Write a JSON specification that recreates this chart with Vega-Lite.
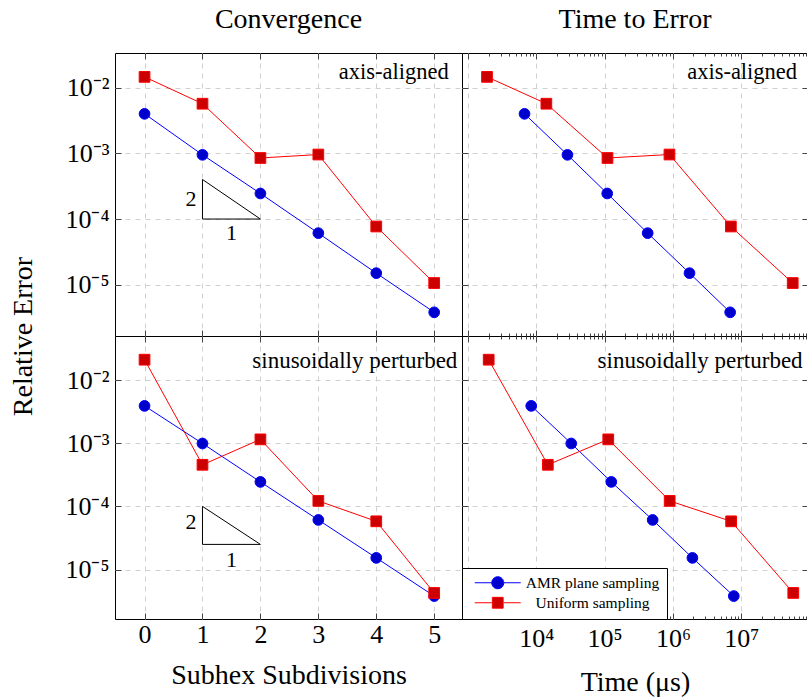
{
  "$schema": "https://vega.github.io/schema/vega-lite/v6.json",
  "background": "white",
  "padding": {"left": 8, "top": 5, "right": 0, "bottom": 0},
  "bounds": "flush",
  "spacing": 0,
  "columns": 2,
  "datasets": {
    "pts": [
      {"geom": "axis", "method": "AMR plane sampling", "sub": 0, "err": 0.004, "time": 6700},
      {"geom": "axis", "method": "AMR plane sampling", "sub": 1, "err": 0.00095, "time": 28500},
      {"geom": "axis", "method": "AMR plane sampling", "sub": 2, "err": 0.000245, "time": 109000},
      {"geom": "axis", "method": "AMR plane sampling", "sub": 3, "err": 0.000061, "time": 427000},
      {"geom": "axis", "method": "AMR plane sampling", "sub": 4, "err": 0.000015, "time": 1750000},
      {"geom": "axis", "method": "AMR plane sampling", "sub": 5, "err": 0.0000038, "time": 6900000},
      {"geom": "axis", "method": "Uniform sampling", "sub": 0, "err": 0.0146, "time": 1890},
      {"geom": "axis", "method": "Uniform sampling", "sub": 1, "err": 0.0057, "time": 14000},
      {"geom": "axis", "method": "Uniform sampling", "sub": 2, "err": 0.00085, "time": 110000},
      {"geom": "axis", "method": "Uniform sampling", "sub": 3, "err": 0.00096, "time": 890000},
      {"geom": "axis", "method": "Uniform sampling", "sub": 4, "err": 0.000077, "time": 7060000},
      {"geom": "axis", "method": "Uniform sampling", "sub": 5, "err": 0.0000106, "time": 56900000},
      {"geom": "sin", "method": "AMR plane sampling", "sub": 0, "err": 0.0039, "time": 8400},
      {"geom": "sin", "method": "AMR plane sampling", "sub": 1, "err": 0.00099, "time": 32400},
      {"geom": "sin", "method": "AMR plane sampling", "sub": 2, "err": 0.000244, "time": 125000},
      {"geom": "sin", "method": "AMR plane sampling", "sub": 3, "err": 0.000061, "time": 505000},
      {"geom": "sin", "method": "AMR plane sampling", "sub": 4, "err": 0.0000153, "time": 1930000},
      {"geom": "sin", "method": "AMR plane sampling", "sub": 5, "err": 0.0000038, "time": 7800000},
      {"geom": "sin", "method": "Uniform sampling", "sub": 0, "err": 0.021, "time": 2000},
      {"geom": "sin", "method": "Uniform sampling", "sub": 1, "err": 0.000455, "time": 14700},
      {"geom": "sin", "method": "Uniform sampling", "sub": 2, "err": 0.00115, "time": 113000},
      {"geom": "sin", "method": "Uniform sampling", "sub": 3, "err": 0.000122, "time": 897000},
      {"geom": "sin", "method": "Uniform sampling", "sub": 4, "err": 0.000058, "time": 7130000},
      {"geom": "sin", "method": "Uniform sampling", "sub": 5, "err": 0.00000426, "time": 58000000}
    ],
    "tri": [
      {"geom": "axis", "k": 0, "sub": 1, "err": 0.0004},
      {"geom": "axis", "k": 1, "sub": 1, "err": 0.0001},
      {"geom": "axis", "k": 2, "sub": 2, "err": 0.0001},
      {"geom": "axis", "k": 3, "sub": 1, "err": 0.0004},
      {"geom": "sin", "k": 0, "sub": 1, "err": 0.0001},
      {"geom": "sin", "k": 1, "sub": 1, "err": 0.000025},
      {"geom": "sin", "k": 2, "sub": 2, "err": 0.000025},
      {"geom": "sin", "k": 3, "sub": 1, "err": 0.0001}
    ]
  },
  "concat": [
    {
      "width": 347, "height": 283,
      "title": {"text": "Convergence"},
      "resolve": {"axis": {"x": "independent", "y": "independent"}},
      "layer": [
        {"data": {"name": "pts"}, "transform": [{"filter": "datum.geom === 'axis'"}], "mark": {"type": "line", "strokeWidth": 1},
         "encoding": {
           "x": {"field": "sub", "type": "quantitative", "scale": {"domain": [-0.51, 5.48], "nice": false, "zero": false},
                 "axis": {"values": [0, 1, 2, 3, 4, 5], "labels": false, "title": null}},
           "y": {"field": "err", "type": "quantitative", "scale": {"type": "log", "domain": [0.000001656, 0.03373], "nice": false},
                 "axis": {"values": [0.00001, 0.0001, 0.001, 0.01], "labelExpr": "datum.value < 5e-5 ? '10⁻⁵' : datum.value < 5e-4 ? '10⁻⁴' : datum.value < 5e-3 ? '10⁻³' : '10⁻²'", "labelPadding": 12,
                          "title": "Relative Error", "titleX": -92, "titleY": 283, "titleAngle": -90, "titleAlign": "center", "titleBaseline": "middle"}},
           "stroke": {"field": "method", "type": "nominal", "scale": {"domain": ["AMR plane sampling", "Uniform sampling"], "range": ["#0000ff", "#ff0000"]}, "legend": null}}},
        {"data": {"name": "pts"}, "transform": [{"filter": "datum.geom === 'axis'"}], "mark": {"type": "point", "filled": true, "size": 115, "opacity": 1, "strokeWidth": 1},
         "encoding": {
           "x": {"field": "sub", "type": "quantitative", "axis": {"orient": "top", "values": [0, 1, 2, 3, 4, 5], "labels": false, "grid": false, "title": null}},
           "y": {"field": "err", "type": "quantitative", "axis": null},
           "fill": {"field": "method", "type": "nominal", "scale": {"domain": ["AMR plane sampling", "Uniform sampling"], "range": ["#0000cc", "#cc0000"]}, "legend": null},
           "stroke": {"field": "method", "type": "nominal", "scale": {"domain": ["AMR plane sampling", "Uniform sampling"], "range": ["#0000ff", "#ff0000"]}, "legend": null},
           "shape": {"field": "method", "type": "nominal", "scale": {"domain": ["AMR plane sampling", "Uniform sampling"], "range": ["circle", "square"]}, "legend": null}}},
        {"data": {"name": "tri"}, "transform": [{"filter": "datum.geom === 'axis'"}], "mark": {"type": "line", "color": "black", "strokeWidth": 1},
         "encoding": {"x": {"field": "sub", "type": "quantitative", "axis": null}, "y": {"field": "err", "type": "quantitative", "axis": null}, "order": {"field": "k", "type": "quantitative"}}},
        {"data": {"values": [{}]}, "mark": {"type": "text", "text": "2", "font": "Liberation Serif", "fontSize": 22, "align": "center", "baseline": "middle"},
         "encoding": {"x": {"datum": 0.8, "type": "quantitative", "axis": null}, "y": {"datum": 0.0002, "type": "quantitative", "axis": null}}},
        {"data": {"values": [{}]}, "mark": {"type": "text", "text": "1", "font": "Liberation Serif", "fontSize": 22, "align": "center", "baseline": "middle"},
         "encoding": {"x": {"datum": 1.5, "type": "quantitative", "axis": null}, "y": {"datum": 0.000061, "type": "quantitative", "axis": null}}},
        {"data": {"values": [{}]}, "mark": {"type": "text", "text": "axis-aligned", "font": "Liberation Serif", "fontSize": 22.5, "align": "right", "baseline": "middle"},
         "encoding": {"x": {"datum": 5.25, "type": "quantitative", "axis": null}, "y": {"datum": 0.0173, "type": "quantitative", "axis": null}}}
      ]
    },
    {
      "width": 346, "height": 283,
      "title": {"text": "Time to Error"},
      "resolve": {"axis": {"x": "independent", "y": "independent"}},
      "layer": [
        {"data": {"name": "pts"}, "transform": [{"filter": "datum.geom === 'axis'"}], "mark": {"type": "line", "strokeWidth": 1},
         "encoding": {
           "x": {"field": "time", "type": "quantitative", "scale": {"type": "log", "domain": [813, 95300000], "nice": false},
                 "axis": {"values": [1000,2000,3000,4000,5000,6000,7000,8000,9000,10000,20000,30000,40000,50000,60000,70000,80000,90000,100000,200000,300000,400000,500000,600000,700000,800000,900000,1000000,2000000,3000000,4000000,5000000,6000000,7000000,8000000,9000000,10000000,20000000,30000000,40000000,50000000,60000000,70000000,80000000,90000000],
                          "labels": false, "title": null,
                          "tickSize": {"condition": {"test": "datum.value == 1000 || datum.value == 10000 || datum.value == 100000 || datum.value == 1000000 || datum.value == 10000000", "value": -6}, "value": -3},
                          "gridOpacity": {"condition": {"test": "datum.value == 1000 || datum.value == 10000 || datum.value == 100000 || datum.value == 1000000 || datum.value == 10000000", "value": 1}, "value": 0}}},
           "y": {"field": "err", "type": "quantitative", "scale": {"type": "log", "domain": [0.000001656, 0.03373], "nice": false},
                 "axis": {"values": [0.00001, 0.0001, 0.001, 0.01], "labels": false, "title": null}},
           "stroke": {"field": "method", "type": "nominal", "scale": {"domain": ["AMR plane sampling", "Uniform sampling"], "range": ["#0000ff", "#ff0000"]}, "legend": null}}},
        {"data": {"name": "pts"}, "transform": [{"filter": "datum.geom === 'axis'"}], "mark": {"type": "point", "filled": true, "size": 115, "opacity": 1, "strokeWidth": 1},
         "encoding": {
           "x": {"field": "time", "type": "quantitative",
                 "axis": {"orient": "top", "values": [1000,2000,3000,4000,5000,6000,7000,8000,9000,10000,20000,30000,40000,50000,60000,70000,80000,90000,100000,200000,300000,400000,500000,600000,700000,800000,900000,1000000,2000000,3000000,4000000,5000000,6000000,7000000,8000000,9000000,10000000,20000000,30000000,40000000,50000000,60000000,70000000,80000000,90000000],
                          "labels": false, "title": null, "grid": false,
                          "tickSize": {"condition": {"test": "datum.value == 1000 || datum.value == 10000 || datum.value == 100000 || datum.value == 1000000 || datum.value == 10000000", "value": -6}, "value": -3}}},
           "y": {"field": "err", "type": "quantitative", "axis": {"orient": "right", "values": [0.00001, 0.0001, 0.001, 0.01], "labels": false, "title": null, "grid": false}},
           "fill": {"field": "method", "type": "nominal", "scale": {"domain": ["AMR plane sampling", "Uniform sampling"], "range": ["#0000cc", "#cc0000"]}, "legend": null},
           "stroke": {"field": "method", "type": "nominal", "scale": {"domain": ["AMR plane sampling", "Uniform sampling"], "range": ["#0000ff", "#ff0000"]}, "legend": null},
           "shape": {"field": "method", "type": "nominal", "scale": {"domain": ["AMR plane sampling", "Uniform sampling"], "range": ["circle", "square"]}, "legend": null}}},
        {"data": {"values": [{}]}, "mark": {"type": "text", "text": "axis-aligned", "font": "Liberation Serif", "fontSize": 22.5, "align": "right", "baseline": "middle"},
         "encoding": {"x": {"datum": 66000000, "type": "quantitative", "axis": null}, "y": {"datum": 0.0173, "type": "quantitative", "axis": null}}}
      ]
    },
    {
      "width": 347, "height": 283,
      "resolve": {"axis": {"x": "independent", "y": "independent"}},
      "layer": [
        {"data": {"name": "pts"}, "transform": [{"filter": "datum.geom === 'sin'"}], "mark": {"type": "line", "strokeWidth": 1},
         "encoding": {
           "x": {"field": "sub", "type": "quantitative", "scale": {"domain": [-0.51, 5.48], "nice": false, "zero": false},
                 "axis": {"values": [0, 1, 2, 3, 4, 5], "labelPadding": 8, "title": "Subhex Subdivisions", "titlePadding": 14}},
           "y": {"field": "err", "type": "quantitative", "scale": {"type": "log", "domain": [0.000001648, 0.0498], "nice": false},
                 "axis": {"values": [0.00001, 0.0001, 0.001, 0.01], "labelExpr": "datum.value < 5e-5 ? '10⁻⁵' : datum.value < 5e-4 ? '10⁻⁴' : datum.value < 5e-3 ? '10⁻³' : '10⁻²'", "labelPadding": 12, "title": null}},
           "stroke": {"field": "method", "type": "nominal", "scale": {"domain": ["AMR plane sampling", "Uniform sampling"], "range": ["#0000ff", "#ff0000"]}, "legend": null}}},
        {"data": {"name": "pts"}, "transform": [{"filter": "datum.geom === 'sin'"}], "mark": {"type": "point", "filled": true, "size": 115, "opacity": 1, "strokeWidth": 1},
         "encoding": {
           "x": {"field": "sub", "type": "quantitative", "axis": {"orient": "top", "values": [0, 1, 2, 3, 4, 5], "labels": false, "grid": false, "title": null}},
           "y": {"field": "err", "type": "quantitative", "axis": null},
           "fill": {"field": "method", "type": "nominal", "scale": {"domain": ["AMR plane sampling", "Uniform sampling"], "range": ["#0000cc", "#cc0000"]}, "legend": null},
           "stroke": {"field": "method", "type": "nominal", "scale": {"domain": ["AMR plane sampling", "Uniform sampling"], "range": ["#0000ff", "#ff0000"]}, "legend": null},
           "shape": {"field": "method", "type": "nominal", "scale": {"domain": ["AMR plane sampling", "Uniform sampling"], "range": ["circle", "square"]}, "legend": null}}},
        {"data": {"name": "tri"}, "transform": [{"filter": "datum.geom === 'sin'"}], "mark": {"type": "line", "color": "black", "strokeWidth": 1},
         "encoding": {"x": {"field": "sub", "type": "quantitative", "axis": null}, "y": {"field": "err", "type": "quantitative", "axis": null}, "order": {"field": "k", "type": "quantitative"}}},
        {"data": {"values": [{}]}, "mark": {"type": "text", "text": "2", "font": "Liberation Serif", "fontSize": 22, "align": "center", "baseline": "middle"},
         "encoding": {"x": {"datum": 0.8, "type": "quantitative", "axis": null}, "y": {"datum": 0.000057, "type": "quantitative", "axis": null}}},
        {"data": {"values": [{}]}, "mark": {"type": "text", "text": "1", "font": "Liberation Serif", "fontSize": 22, "align": "center", "baseline": "middle"},
         "encoding": {"x": {"datum": 1.5, "type": "quantitative", "axis": null}, "y": {"datum": 0.0000144, "type": "quantitative", "axis": null}}},
        {"data": {"values": [{}]}, "mark": {"type": "text", "text": "sinusoidally perturbed", "font": "Liberation Serif", "fontSize": 23, "align": "right", "baseline": "middle"},
         "encoding": {"x": {"datum": 5.4, "type": "quantitative", "axis": null}, "y": {"datum": 0.0202, "type": "quantitative", "axis": null}}}
      ]
    },
    {
      "width": 346, "height": 283,
      "resolve": {"axis": {"x": "independent", "y": "independent"}, "scale": {"fill": "independent", "stroke": "independent", "shape": "independent"}},
      "layer": [
        {"data": {"name": "pts"}, "transform": [{"filter": "datum.geom === 'sin'"}], "mark": {"type": "line", "strokeWidth": 1},
         "encoding": {
           "x": {"field": "time", "type": "quantitative", "scale": {"type": "log", "domain": [813, 95300000], "nice": false},
                 "axis": {"values": [1000,2000,3000,4000,5000,6000,7000,8000,9000,10000,20000,30000,40000,50000,60000,70000,80000,90000,100000,200000,300000,400000,500000,600000,700000,800000,900000,1000000,2000000,3000000,4000000,5000000,6000000,7000000,8000000,9000000,10000000,20000000,30000000,40000000,50000000,60000000,70000000,80000000,90000000],
                          "labelExpr": "datum.value == 10000 ? '10⁴' : datum.value == 100000 ? '10⁵' : datum.value == 1000000 ? '10⁶' : datum.value == 10000000 ? '10⁷' : ''",
                          "labelPadding": 12, "title": "Time (μs)", "titlePadding": 14,
                          "tickSize": {"condition": {"test": "datum.value == 1000 || datum.value == 10000 || datum.value == 100000 || datum.value == 1000000 || datum.value == 10000000", "value": -6}, "value": -3},
                          "gridOpacity": {"condition": {"test": "datum.value == 1000 || datum.value == 10000 || datum.value == 100000 || datum.value == 1000000 || datum.value == 10000000", "value": 1}, "value": 0}}},
           "y": {"field": "err", "type": "quantitative", "scale": {"type": "log", "domain": [0.000001648, 0.0498], "nice": false},
                 "axis": {"values": [0.00001, 0.0001, 0.001, 0.01], "labels": false, "title": null}},
           "stroke": {"field": "method", "type": "nominal", "scale": {"domain": ["AMR plane sampling", "Uniform sampling"], "range": ["#0000ff", "#ff0000"]}, "legend": null}}},
        {"data": {"name": "pts"}, "transform": [{"filter": "datum.geom === 'sin'"}], "mark": {"type": "point", "filled": true, "size": 115, "opacity": 1, "strokeWidth": 1},
         "encoding": {
           "x": {"field": "time", "type": "quantitative",
                 "axis": {"orient": "top", "values": [1000,2000,3000,4000,5000,6000,7000,8000,9000,10000,20000,30000,40000,50000,60000,70000,80000,90000,100000,200000,300000,400000,500000,600000,700000,800000,900000,1000000,2000000,3000000,4000000,5000000,6000000,7000000,8000000,9000000,10000000,20000000,30000000,40000000,50000000,60000000,70000000,80000000,90000000],
                          "labels": false, "title": null, "grid": false,
                          "tickSize": {"condition": {"test": "datum.value == 1000 || datum.value == 10000 || datum.value == 100000 || datum.value == 1000000 || datum.value == 10000000", "value": -6}, "value": -3}}},
           "y": {"field": "err", "type": "quantitative", "axis": {"orient": "right", "values": [0.00001, 0.0001, 0.001, 0.01], "labels": false, "title": null, "grid": false}},
           "fill": {"field": "method", "type": "nominal", "scale": {"domain": ["AMR plane sampling", "Uniform sampling"], "range": ["#0000cc", "#cc0000"]}, "legend": null},
           "stroke": {"field": "method", "type": "nominal", "scale": {"domain": ["AMR plane sampling", "Uniform sampling"], "range": ["#0000ff", "#ff0000"]}, "legend": null},
           "shape": {"field": "method", "type": "nominal", "scale": {"domain": ["AMR plane sampling", "Uniform sampling"], "range": ["circle", "square"]}, "legend": null}}},
        {"data": {"name": "pts"}, "transform": [{"filter": "false"}], "mark": {"type": "point", "filled": true, "size": 144, "opacity": 1, "strokeWidth": 1},
         "encoding": {
           "x": {"field": "time", "type": "quantitative", "axis": null},
           "y": {"field": "err", "type": "quantitative", "axis": null},
           "fill": {"field": "method", "type": "nominal", "scale": {"domain": ["AMR plane sampling", "Uniform sampling"], "range": ["#0000cc", "#cc0000"]},
                    "legend": {"orient": "bottom-left", "offset": 0, "title": null}},
           "stroke": {"field": "method", "type": "nominal", "scale": {"domain": ["AMR plane sampling", "Uniform sampling"], "range": ["#0000ff", "#ff0000"]},
                      "legend": {"orient": "bottom-left", "offset": 0, "title": null}},
           "shape": {"field": "method", "type": "nominal", "scale": {"domain": ["AMR plane sampling", "Uniform sampling"], "range": ["M-3.83,0L-1,0M1,0L3.83,0M-1,0A1,1,0,1,1,1,0A1,1,0,1,1,-1,0Z", "M-3.83,0L-1,0M1,0L3.83,0M-0.9,-0.9L0.9,-0.9L0.9,0.9L-0.9,0.9Z"]},
                     "legend": {"orient": "bottom-left", "offset": 0, "title": null}}}},
        {"data": {"values": [{}]}, "mark": {"type": "text", "text": "sinusoidally perturbed", "font": "Liberation Serif", "fontSize": 23, "align": "right", "baseline": "middle"},
         "encoding": {"x": {"datum": 79400000, "type": "quantitative", "axis": null}, "y": {"datum": 0.0202, "type": "quantitative", "axis": null}}}
      ]
    }
  ],
  "resolve": {"legend": {"fill": "independent", "stroke": "independent", "shape": "independent"}},
  "config": {
    "font": "Liberation Serif",
    "view": {"stroke": "black", "strokeWidth": 1},
    "axis": {"domain": false, "grid": true, "gridColor": "#d0d0d0", "gridDash": [5, 5], "gridWidth": 1, "ticks": true, "tickColor": "#444444", "tickWidth": 1, "tickSize": -6,
             "labelFont": "Liberation Serif", "labelFontSize": 26, "labelColor": "black", "labelFlush": false, "labelOverlap": false, "labelBound": false,
             "titleFont": "Liberation Serif", "titleFontSize": 28, "titleFontWeight": "normal", "titleColor": "black"},
    "title": {"font": "Liberation Serif", "fontSize": 28, "fontWeight": "normal", "color": "black", "baseline": "alphabetic", "offset": 19, "anchor": "middle"},
    "legend": {"labelFont": "Liberation Serif", "labelFontSize": 15.5, "labelColor": "black", "labelAlign": "center", "strokeColor": "black", "fillColor": "white", "padding": 7, "rowPadding": 3,
               "symbolSize": 144, "symbolOffset": 21, "labelOffset": 87, "symbolOpacity": 1, "symbolStrokeWidth": 1, "cornerRadius": 0, "offset": 0}
  }
}
